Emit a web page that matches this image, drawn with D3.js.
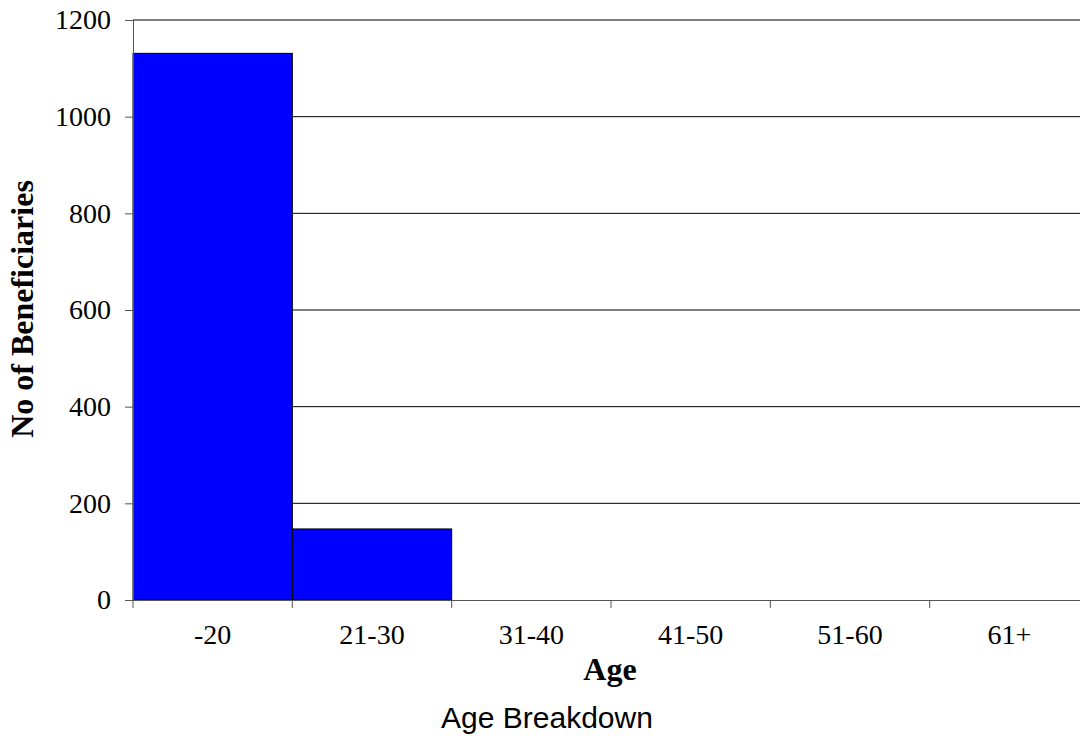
<!DOCTYPE html>
<html><head><meta charset="utf-8">
<script src="https://cdn.jsdelivr.net/npm/d3@7"></script>
<style>body{margin:0;background:#fff;} svg{display:block;}</style>
</head><body>
<svg id="chart" width="1080" height="739"></svg>
<script>
const categories = ["-20", "21-30", "31-40", "41-50", "51-60", "61+"];
const values = [1131, 147, 0, 0, 0, 0];
const yTicks = [0, 200, 400, 600, 800, 1000, 1200];

(function () {
const svg = d3.select("#chart");
const pL = 133, pR = 1089, pT = 20, pB = 600;
const x = d3.scaleBand().domain(categories).range([pL, pR]).padding(0);
const y = d3.scaleLinear().domain([0, 1200]).range([pB, pT]);

// gridlines
svg.append("g").selectAll("line").data(yTicks.filter(d => d > 0)).join("line")
  .attr("x1", pL).attr("x2", pR)
  .attr("y1", d => y(d)).attr("y2", d => y(d))
  .attr("stroke", "#000").attr("stroke-width", 1);

// bars
svg.append("g").selectAll("rect").data(categories.map((c, i) => ({c, v: values[i]})).filter(d => d.v > 0)).join("rect")
  .attr("x", d => x(d.c)).attr("width", x.bandwidth())
  .attr("y", d => y(d.v)).attr("height", d => y(0) - y(d.v))
  .attr("fill", "#0000FF").attr("stroke", "#000").attr("stroke-width", 1);

// y axis
const yAxis = svg.append("g").attr("transform", `translate(${pL},0)`)
  .call(d3.axisLeft(y).tickValues(yTicks).tickSize(8).tickPadding(14).tickFormat(d3.format("d")));
yAxis.select(".domain").attr("stroke", "#555");
yAxis.selectAll(".tick line").attr("stroke", "#555");
yAxis.selectAll("text").attr("font-family", "Liberation Serif, Times New Roman, serif").attr("font-size", 28).attr("fill", "#000");

// x axis
const xAxis = svg.append("g").attr("transform", `translate(0,${pB})`)
  .call(d3.axisBottom(x).tickSize(0).tickPadding(24));
xAxis.select(".domain").attr("stroke", "#555");
xAxis.selectAll("text").attr("font-family", "Liberation Serif, Times New Roman, serif").attr("font-size", 28).attr("fill", "#000");
// category boundary ticks
svg.append("g").selectAll("line").data(d3.range(categories.length + 1)).join("line")
  .attr("x1", i => pL + i * x.step()).attr("x2", i => pL + i * x.step())
  .attr("y1", pB).attr("y2", pB + 8)
  .attr("stroke", "#555");

// axis titles
svg.append("text").attr("x", 610).attr("y", 680).attr("text-anchor", "middle")
  .attr("font-family", "Liberation Serif, Times New Roman, serif").attr("font-weight", "bold").attr("font-size", 32)
  .text("Age");
svg.append("text").attr("transform", "translate(33,309) rotate(-90)").attr("text-anchor", "middle")
  .attr("font-family", "Liberation Serif, Times New Roman, serif").attr("font-weight", "bold").attr("font-size", 32)
  .text("No of Beneficiaries");
svg.append("text").attr("x", 547).attr("y", 728).attr("text-anchor", "middle")
  .attr("font-family", "Liberation Sans, Arial, sans-serif").attr("font-size", 30)
  .text("Age Breakdown");
})();
</script>
</body></html>
